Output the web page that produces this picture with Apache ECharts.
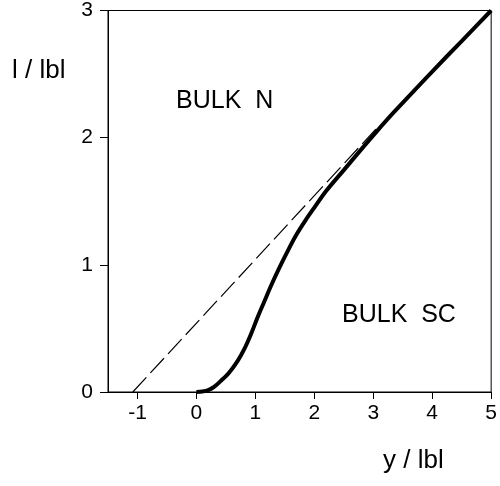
<!DOCTYPE html>
<html>
<head>
<meta charset="utf-8">
<script src="https://cdn.jsdelivr.net/npm/echarts@6/dist/echarts.min.js"></script>
<style>html,body{margin:0;padding:0;background:#fff}#c{width:500px;height:486px}</style>
</head>
<body>
<div id="c"></div>
<script>
// Data
var curveX = [0, 0.1, 0.2, 0.3, 0.42, 0.55, 0.7, 0.82, 0.93, 1.04, 1.15, 1.26, 1.4, 1.55, 1.7, 1.85, 2.0, 2.2, 2.5, 2.8, 3.06, 3.37, 4.0, 4.5, 5.0];
var curveY = [0, 0.004, 0.015, 0.04, 0.09, 0.15, 0.245, 0.345, 0.46, 0.59, 0.71, 0.83, 0.97, 1.11, 1.24, 1.35, 1.45, 1.58, 1.745, 1.91, 2.05, 2.21, 2.52, 2.76, 3.0];
var dashX = [-1.08, 3.05];
var dashY = [0, 2.07];
var xTicks = [-1, 0, 1, 2, 3, 4, 5];
var xTitle = 'y / lbl';
var yTitle = 'l / lbl';
var regionLabels = ['BULK  N', 'BULK  SC'];

function pairs(xs, ys) { return xs.map(function (x, i) { return [x, ys[i]]; }); }

var chart = echarts.init(document.getElementById('c'));
var font = 'Liberation Sans, Arial, sans-serif';
chart.setOption({
  animation: false,
  grid: { left: 108, right: 8, top: 9, bottom: 94, show: true, borderColor: '#000', borderWidth: 1 },
  xAxis: {
    type: 'value', min: -1.5, max: 5,
    splitLine: { show: false },
    axisLine: { onZero: false, lineStyle: { color: '#000', width: 1 } },
    axisTick: { show: true, length: 7, customValues: xTicks, lineStyle: { color: '#000' } },
    axisLabel: { customValues: xTicks, color: '#000', fontSize: 21, fontFamily: 'Liberation Sans', margin: 11 }
  },
  yAxis: {
    type: 'value', min: 0, max: 3, interval: 1,
    splitLine: { show: false },
    axisLine: { show: true, onZero: false, lineStyle: { color: '#000', width: 1 } },
    axisTick: { show: true, length: 8, lineStyle: { color: '#000' } },
    axisLabel: { color: '#000', fontSize: 21, fontFamily: 'Liberation Sans', margin: 15 }
  },
  series: [
    { type: 'line', data: pairs(dashX, dashY), symbol: 'none', lineStyle: { color: '#000', width: 1.2, type: [20, 6] }, z: 2 },
    { type: 'line', data: pairs(curveX, curveY), symbol: 'none', smooth: 0.3, lineStyle: { color: '#000', width: 4 }, z: 3 }
  ],
  graphic: [
    { type: 'text', left: 12, top: 58, style: { text: yTitle, fill: '#000', font: '26px ' + font } },
    { type: 'text', left: 383, top: 448, style: { text: xTitle, fill: '#000', font: '26px ' + font } },
    { type: 'text', left: 176, top: 89, style: { text: regionLabels[0], fill: '#000', font: '25px ' + font } },
    { type: 'text', left: 342, top: 303, style: { text: regionLabels[1], fill: '#000', font: '25px ' + font } }
  ]
});
</script>
</body>
</html>
